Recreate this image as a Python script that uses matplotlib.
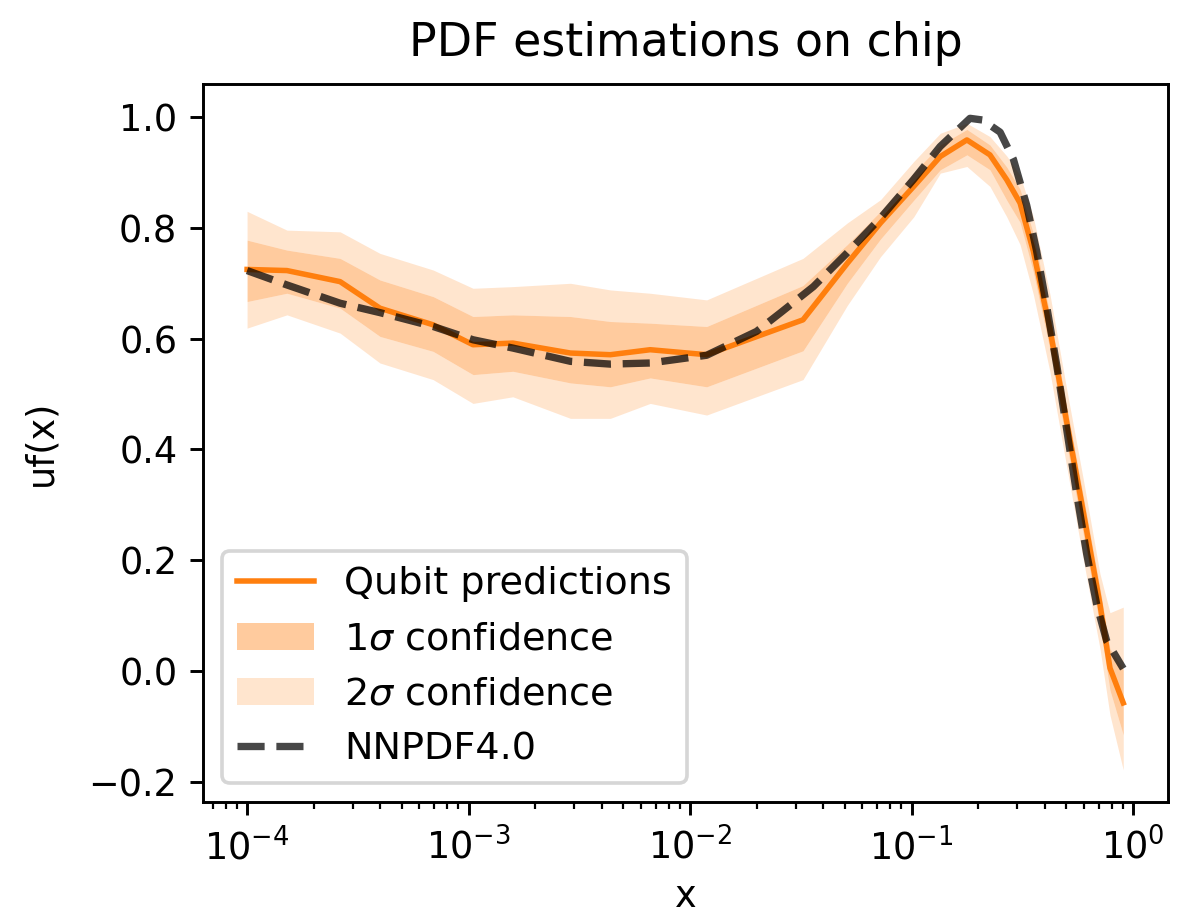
import numpy as np
import matplotlib
matplotlib.use("Agg")
import matplotlib.pyplot as plt

# ---- data ----
log_x_pred = [-4.00, -3.82, -3.58, -3.40, -3.16, -2.98, -2.80, -2.54, -2.36, -2.18,
              -1.925, -1.49, -1.29, -1.14, -0.99, -0.87, -0.75, -0.646, -0.57, -0.51,
              -0.45, -0.375, -0.30, -0.224, -0.149, -0.104, -0.044]
pred_mean = [0.725, 0.723, 0.703, 0.655, 0.625, 0.589, 0.592, 0.574, 0.571, 0.580,
             0.571, 0.634, 0.736, 0.809, 0.875, 0.929, 0.959, 0.932, 0.887, 0.845,
             0.758, 0.617, 0.451, 0.286, 0.120, 0.005, -0.058]
one_sigma_lo = [0.667, 0.682, 0.655, 0.604, 0.577, 0.535, 0.541, 0.520, 0.513, 0.529,
                0.513, 0.578, 0.700, 0.780, 0.850, 0.905, 0.932, 0.905, 0.850, 0.810,
                0.720, 0.580, 0.410, 0.245, 0.080, -0.035, -0.116]
one_sigma_hi = [0.778, 0.760, 0.745, 0.706, 0.676, 0.640, 0.643, 0.640, 0.631, 0.628,
                0.622, 0.696, 0.770, 0.830, 0.900, 0.950, 0.978, 0.950, 0.910, 0.870,
                0.790, 0.645, 0.480, 0.315, 0.150, 0.040, 0.002]
two_sigma_lo = [0.619, 0.643, 0.610, 0.556, 0.526, 0.483, 0.495, 0.456, 0.456, 0.483,
                0.462, 0.526, 0.660, 0.748, 0.820, 0.899, 0.911, 0.875, 0.820, 0.770,
                0.680, 0.540, 0.370, 0.200, 0.040, -0.080, -0.179]
two_sigma_hi = [0.830, 0.796, 0.793, 0.754, 0.724, 0.691, 0.694, 0.700, 0.688, 0.682,
                0.670, 0.745, 0.809, 0.851, 0.920, 0.971, 0.989, 0.965, 0.930, 0.895,
                0.820, 0.680, 0.510, 0.345, 0.175, 0.105, 0.115]

log_x_nnpdf = [-4.00, -3.82, -3.58, -3.40, -3.16, -2.98, -2.80, -2.54, -2.36, -2.18,
               -1.925, -1.70, -1.594, -1.443, -1.293, -1.142, -0.992, -0.871, -0.736,
               -0.68, -0.600, -0.540, -0.480, -0.435, -0.390, -0.344, -0.299, -0.254,
               -0.209, -0.164, -0.119, -0.044]
nnpdf = [0.723, 0.697, 0.664, 0.647, 0.622, 0.598, 0.583, 0.559, 0.554, 0.556,
         0.570, 0.613, 0.646, 0.694, 0.754, 0.817, 0.887, 0.947, 0.998,
         0.995, 0.973, 0.924, 0.841, 0.758, 0.659, 0.551, 0.435, 0.319,
         0.211, 0.120, 0.054, 0.004]

x_pred = 10.0 ** np.array(log_x_pred)
x_nn = 10.0 ** np.array(log_x_nnpdf)

W, H = 1178, 918
DPI = 264
fig = plt.figure(figsize=(W / DPI, H / DPI), dpi=DPI)
ax = fig.add_axes([203 / W, 1 - 802 / H, (1168 - 203) / W, (802 - 84) / H])

c = "C1"
ax.plot(x_pred, pred_mean, color=c, lw=1.5, label="Qubit predictions", zorder=3)
ax.fill_between(x_pred, one_sigma_lo, one_sigma_hi, color=c, alpha=0.4, lw=0,
                label=r"1$\sigma$ confidence", zorder=2)
ax.fill_between(x_pred, two_sigma_lo, one_sigma_lo, color=c, alpha=0.2, lw=0,
                label=r"2$\sigma$ confidence", zorder=1)
ax.fill_between(x_pred, one_sigma_hi, two_sigma_hi, color=c, alpha=0.2, lw=0, zorder=1)
ax.plot(x_nn, nnpdf, color="black", alpha=0.72, ls="--", lw=2, label="NNPDF4.0", zorder=4)

ax.set_xscale("log")
ax.set_xlim(10 ** -4.199, 10 ** 0.158)
ax.set_ylim(-0.237, 1.060)
ax.set_yticks([-0.2, 0.0, 0.2, 0.4, 0.6, 0.8, 1.0])
ax.set_xlabel("x", labelpad=3)
ax.set_ylabel("uf(x)", labelpad=8)
ax.set_title("PDF estimations on chip", fontsize=12.5, pad=7.5)
ax.legend(loc="lower left", fontsize=10.4, handlelength=2.0)

fig.savefig("out.png", dpi=DPI)
